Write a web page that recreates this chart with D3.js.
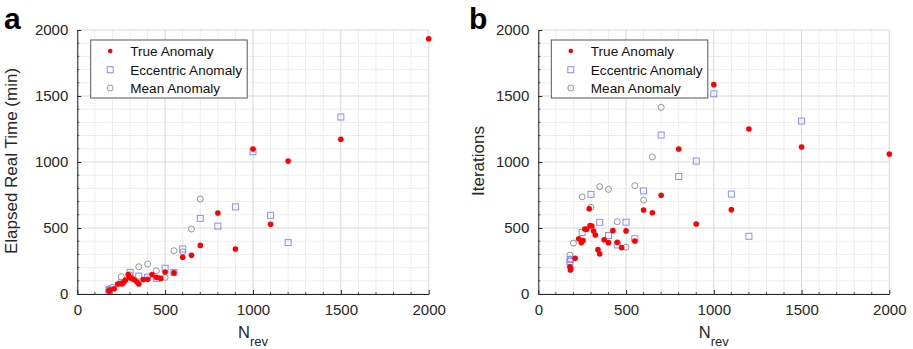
<!DOCTYPE html>
<html><head><meta charset="utf-8">
<script src="https://cdnjs.cloudflare.com/ajax/libs/d3/7.8.5/d3.min.js"></script>
<style>body{margin:0;background:#fff}svg{display:block;font-family:"Liberation Sans",Arial,Helvetica,sans-serif}</style>
</head><body><svg id="c" width="913" height="349"></svg>
<script>
// ---- data ----
const trueN   = [180,183,185,210,230,245,255,265,275,290,295,305,315,325,340,350,375,400,425,450,475,500,550,600,650,700,800,900,1000,1100,1200,1500,2000];
const trueTime= [25,22,30,40,76,80,78,90,106,148,128,122,115,108,90,76,110,112,148,126,118,167,160,278,293,368,614,341,1098,528,1007,1172,1934];
const trueIter= [207,182,194,270,419,391,405,492,490,646,518,515,477,447,336,303,411,389,480,391,351,478,401,636,616,748,1098,530,1586,639,1250,1114,1060];

const eccN    = [180,182,250,300,350,400,450,500,550,600,700,800,900,1000,1100,1200,1500];
const eccTime = [30,28,85,164,136,128,118,195,163,341,573,514,660,1078,596,389,1341];
const eccIter = [245,262,466,755,543,443,372,544,419,781,1204,890,1007,1517,757,437,1310];

const meanN   = [180,182,200,250,300,350,400,450,500,550,600,650,700];
const meanTime= [30,40,51,131,145,207,227,176,126,328,320,492,720];
const meanIter= [295,265,386,736,658,813,793,548,355,821,712,1038,1414];

const xTicks = [0,500,1000,1500,2000];
const yTicks = [0,500,1000,1500,2000];
const seriesNames = ["True Anomaly","Eccentric Anomaly","Mean Anomaly"];

const svg = d3.select("#c");
const axCol = "#262626";
const fmt = d3.format("d");

function panel(opt){
  const g = svg.append("g");
  const x = d3.scaleLinear().domain([0,2000]).range([opt.left, opt.right]);
  const y = d3.scaleLinear().domain([0,2000]).range([294, 30]);
  const minor = d3.range(0,2001,100);
  // minor grid
  g.selectAll(null).data(minor.filter(v=>v%500)).enter().append("line")
    .attr("x1",d=>x(d)).attr("x2",d=>x(d)).attr("y1",y(0)).attr("y2",y(2000))
    .attr("stroke","#e2e2e2").attr("stroke-width",1).attr("stroke-dasharray","1.5,1");
  g.selectAll(null).data(minor.filter(v=>v%500)).enter().append("line")
    .attr("y1",d=>y(d)).attr("y2",d=>y(d)).attr("x1",x(0)).attr("x2",x(2000))
    .attr("stroke","#e2e2e2").attr("stroke-width",1).attr("stroke-dasharray","1.5,1");
  // major grid
  g.selectAll(null).data(xTicks).enter().append("line")
    .attr("x1",d=>x(d)).attr("x2",d=>x(d)).attr("y1",y(0)).attr("y2",y(2000))
    .attr("stroke","#d8d8d8").attr("stroke-width",1);
  g.selectAll(null).data(yTicks).enter().append("line")
    .attr("y1",d=>y(d)).attr("y2",d=>y(d)).attr("x1",x(0)).attr("x2",x(2000))
    .attr("stroke","#d8d8d8").attr("stroke-width",1);
  // axes
  const xa = g.append("g").attr("transform",`translate(0,${y(0)})`)
    .call(d3.axisBottom(x).tickValues(xTicks).tickFormat(fmt).tickSizeInner(-4).tickSizeOuter(0).tickPadding(10));
  const ya = g.append("g").attr("transform",`translate(${x(0)},0)`)
    .call(d3.axisLeft(y).tickValues(yTicks).tickFormat(fmt).tickSizeInner(-4).tickSizeOuter(0).tickPadding(9));
  [xa,ya].forEach(a=>{
    a.select(".domain").attr("stroke",axCol).attr("stroke-width",1);
    a.selectAll(".tick line").attr("stroke",axCol);
    a.selectAll("text").attr("fill",axCol).attr("font-size",15).attr("font-family","Liberation Sans, Arial, sans-serif");
  });
  // minor ticks
  g.selectAll(null).data(minor.filter(v=>v%500)).enter().append("line")
    .attr("x1",d=>x(d)).attr("x2",d=>x(d)).attr("y1",y(0)).attr("y2",y(0)-2)
    .attr("stroke",axCol).attr("stroke-width",0.8);
  g.selectAll(null).data(minor.filter(v=>v%500)).enter().append("line")
    .attr("y1",d=>y(d)).attr("y2",d=>y(d)).attr("x1",x(0)).attr("x2",x(0)+2)
    .attr("stroke",axCol).attr("stroke-width",0.8);

  // points: mean (open gray circles), eccentric (blue squares), true (red dots)
  g.selectAll(null).data(meanN.map((n,i)=>[n,opt.mean[i]])).enter().append("circle")
    .attr("cx",d=>x(d[0])).attr("cy",d=>y(d[1])).attr("r",3)
    .attr("fill","none").attr("stroke","#8a8a8a").attr("stroke-width",0.9);
  g.selectAll(null).data(eccN.map((n,i)=>[n,opt.ecc[i]])).enter().append("rect")
    .attr("x",d=>x(d[0])-3).attr("y",d=>y(d[1])-3).attr("width",6).attr("height",6)
    .attr("fill","none").attr("stroke","#8c8cff").attr("stroke-width",1);
  g.selectAll(null).data(trueN.map((n,i)=>[n,opt.tru[i]])).enter().append("circle")
    .attr("cx",d=>x(d[0])).attr("cy",d=>y(d[1])).attr("r",2.8).attr("fill","#ff0000");

  // legend
  const lx = opt.legX;
  const lg = g.append("g");
  lg.append("rect").attr("x",lx).attr("y",40).attr("width",156.5).attr("height",58)
    .attr("fill","#fff").attr("stroke","#555").attr("stroke-width",1);
  const rows = [51,69.7,88];
  const mx = lx+19.5, tx = lx+39.5;
  lg.append("circle").attr("cx",mx).attr("cy",rows[0]).attr("r",2.3).attr("fill","#ff0000");
  lg.append("rect").attr("x",mx-3).attr("y",rows[1]-3).attr("width",6).attr("height",6)
    .attr("fill","none").attr("stroke","#8c8cff").attr("stroke-width",1);
  lg.append("circle").attr("cx",mx).attr("cy",rows[2]).attr("r",3)
    .attr("fill","none").attr("stroke","#8a8a8a").attr("stroke-width",0.9);
  seriesNames.forEach((s,i)=>{
    lg.append("text").attr("x",tx).attr("y",rows[i]+4.9).attr("font-size",13.6)
      .attr("fill","#111").text(s);
  });

  // x label
  const xl = g.append("text").attr("x",(opt.left+opt.right)/2).attr("y",338)
    .attr("text-anchor","middle").attr("fill",axCol);
  xl.append("tspan").attr("font-size",16.5).text("N");
  xl.append("tspan").attr("font-size",13).attr("dy",8).text("rev");
  // y label
  g.append("text").attr("transform",`translate(${opt.ylabX},161) rotate(-90)`)
    .attr("text-anchor","middle").attr("font-size",17).attr("fill",axCol).text(opt.ylab);
  // panel letter
  g.append("text").attr("x",opt.letX).attr("y",29).attr("font-size",30).attr("font-weight","bold")
    .attr("fill","#000").text(opt.letter);
}

panel({left:77.3,right:428.7,tru:trueTime,ecc:eccTime,mean:meanTime,legX:90.7,
       ylab:"Elapsed Real Time (min)",ylabX:16.5,letter:"a",letX:4});
panel({left:538.3,right:889.3,tru:trueIter,ecc:eccIter,mean:meanIter,legX:551.3,
       ylab:"Iterations",ylabX:484.3,letter:"b",letX:469});
</script>
</body></html>
